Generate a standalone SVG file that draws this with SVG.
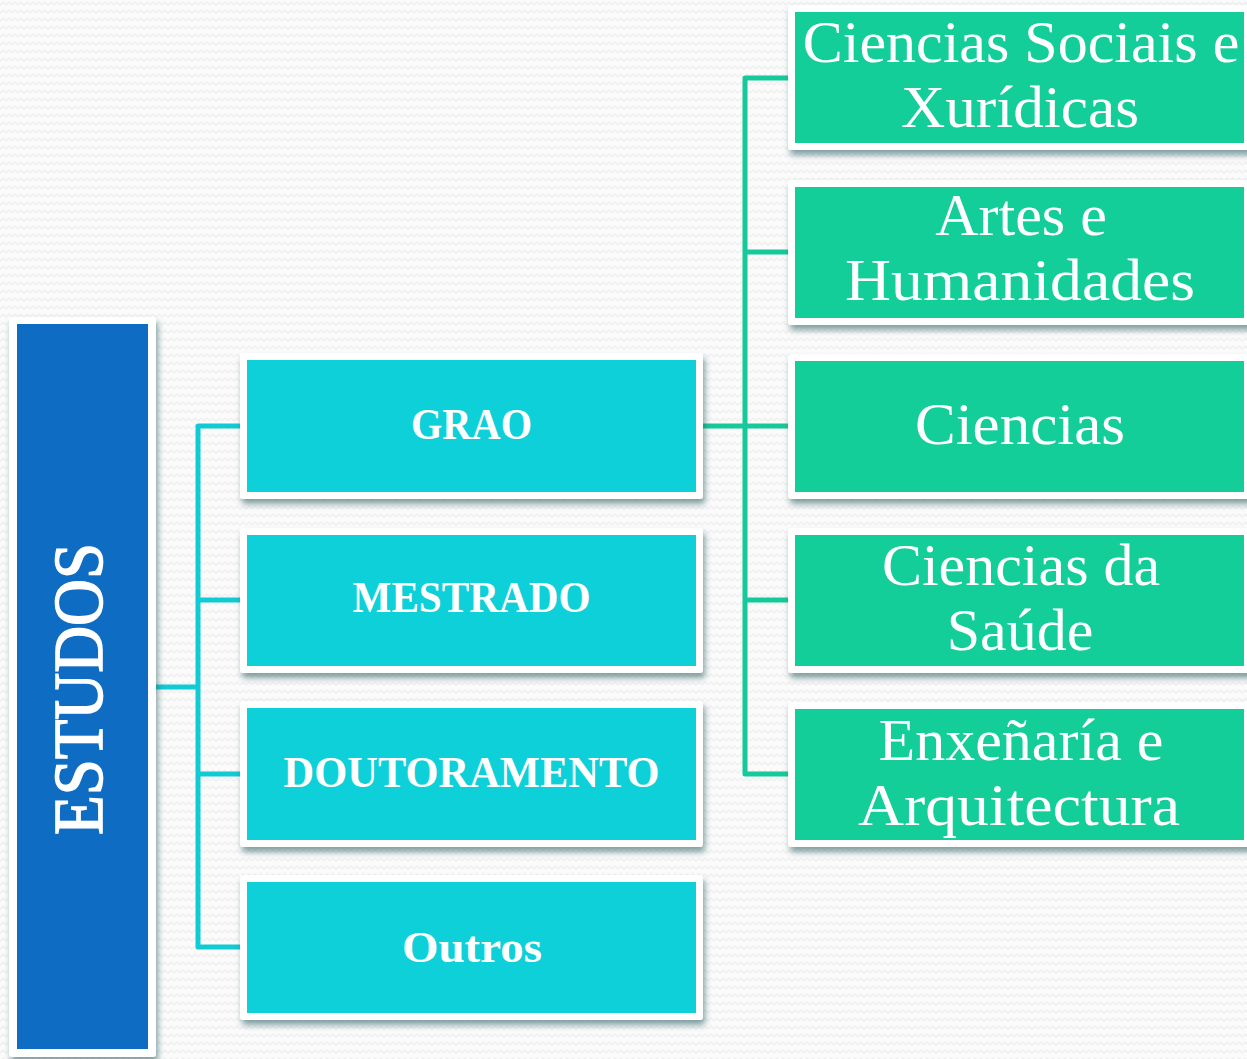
<svg xmlns="http://www.w3.org/2000/svg" width="1247" height="1059" viewBox="0 0 1247 1059">
<defs>
<pattern id="zig" width="12" height="8" patternUnits="userSpaceOnUse">
<rect width="12" height="8" fill="#fbfbfb"/>
<path d="M0 5 L3 2 L6 5 L9 2 L12 5" fill="none" stroke="#eeeeee" stroke-width="1.2"/>
</pattern>
<filter id="sh" x="-10%" y="-10%" width="130%" height="130%">
<feDropShadow dx="2" dy="5" stdDeviation="3" flood-color="#2f6066" flood-opacity="0.6"/>
</filter>
<style>
.frame{fill:#ffffff;filter:url(#sh);}
.blue{fill:#0f6cc3;}
.cyan{fill:#0dd0d9;}
.green{fill:#14ce9a;}
.lc{fill:none;stroke:#10cad4;stroke-width:5;stroke-linejoin:round;}
.lg{fill:none;stroke:#15c99a;stroke-width:5;stroke-linejoin:round;}
.t{font-family:"Liberation Serif","DejaVu Serif",serif;fill:#ffffff;text-anchor:middle;}
.b{font-weight:bold;font-size:44px;}
.r{font-size:60px;}
</style>
</defs>
<rect width="1247" height="1059" fill="url(#zig)"/>

<g id="connectors">
<path class="lc" d="M156 687 H198 M240 426 H198 V947 H240 M198 600 H240 M198 774 H240"/>
<path class="lg" d="M703 426 H788 M788 78 H745 V774 H788 M745 252 H788"/>
<path class="lg" d="M745 600 H788"/>
</g>

<g id="estudos">
<rect class="frame" x="9" y="317" width="147" height="740" rx="3"/>
<rect class="blue" x="17" y="324" width="131" height="725"/>
<text class="t" transform="translate(102 689) rotate(-90)" font-size="70" stroke="#ffffff" stroke-width="1.6" textLength="292" lengthAdjust="spacingAndGlyphs">ESTUDOS</text>
</g>

<g id="grao">
<rect class="frame" x="240" y="353" width="463" height="146" rx="3"/>
<rect class="cyan" x="247" y="360" width="449" height="132"/>
<text class="t b" x="471.5" y="439" textLength="121" lengthAdjust="spacingAndGlyphs">GRAO</text>
</g>
<g id="mestrado">
<rect class="frame" x="240" y="528" width="463" height="145" rx="3"/>
<rect class="cyan" x="247" y="535" width="449" height="131"/>
<text class="t b" x="471.5" y="612" textLength="238" lengthAdjust="spacingAndGlyphs">MESTRADO</text>
</g>
<g id="doutoramento">
<rect class="frame" x="240" y="701" width="463" height="146" rx="3"/>
<rect class="cyan" x="247" y="708" width="449" height="132"/>
<text class="t b" x="471.5" y="787" textLength="376" lengthAdjust="spacingAndGlyphs">DOUTORAMENTO</text>
</g>
<g id="outros">
<rect class="frame" x="240" y="875" width="463" height="145" rx="3"/>
<rect class="cyan" x="247" y="882" width="449" height="131"/>
<text class="t b" x="472" y="962" textLength="140" lengthAdjust="spacingAndGlyphs">Outros</text>
</g>

<g id="sociais">
<rect class="frame" x="788" y="5" width="470" height="145" rx="3"/>
<rect class="green" x="795" y="12" width="449" height="131"/>
<text class="t r" x="1021" y="62">Ciencias Sociais e</text>
<text class="t r" x="1020" y="127" textLength="238" lengthAdjust="spacingAndGlyphs">Xurídicas</text>
</g>
<g id="artes">
<rect class="frame" x="788" y="180" width="470" height="145" rx="3"/>
<rect class="green" x="795" y="187" width="449" height="131"/>
<text class="t r" x="1021" y="235">Artes e</text>
<text class="t r" x="1020" y="300" textLength="350" lengthAdjust="spacingAndGlyphs">Humanidades</text>
</g>
<g id="ciencias">
<rect class="frame" x="788" y="354" width="470" height="145" rx="3"/>
<rect class="green" x="795" y="361" width="449" height="131"/>
<text class="t r" x="1020" y="444" textLength="210" lengthAdjust="spacingAndGlyphs">Ciencias</text>
</g>
<g id="saude">
<rect class="frame" x="788" y="528" width="470" height="145" rx="3"/>
<rect class="green" x="795" y="535" width="449" height="131"/>
<text class="t r" x="1021" y="585">Ciencias da</text>
<text class="t r" x="1020" y="650">Saúde</text>
</g>
<g id="enxenaria">
<rect class="frame" x="788" y="702" width="470" height="145" rx="3"/>
<rect class="green" x="795" y="709" width="449" height="131"/>
<text class="t r" x="1021" y="760">Enxeñaría e</text>
<text class="t r" x="1019" y="825" textLength="322" lengthAdjust="spacingAndGlyphs">Arquitectura</text>
</g>
</svg>
